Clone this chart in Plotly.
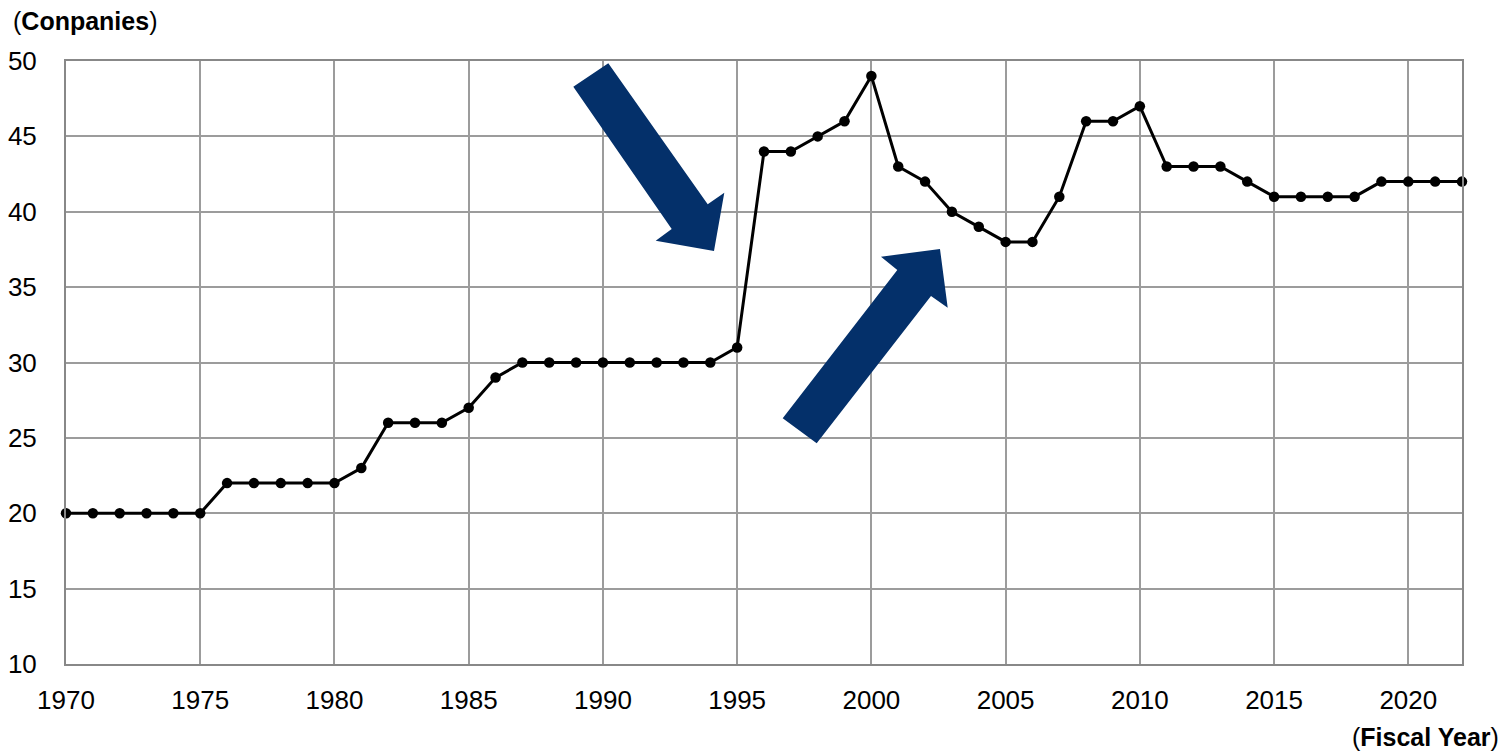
import plotly.graph_objects as go

# Number of companies by fiscal year
years = list(range(1970, 2023))
companies = [
    20, 20, 20, 20, 20, 20,          # 1970-1975
    22, 22, 22, 22, 22,              # 1976-1980
    23, 26, 26, 26, 27, 29,          # 1981-1986
    30, 30, 30, 30, 30, 30, 30, 30,  # 1987-1994
    31, 44, 44, 45, 46, 49,          # 1995-2000
    43, 42, 40, 39, 38, 38,          # 2001-2006
    41, 46, 46, 47,                  # 2007-2010
    43, 43, 43, 42,                  # 2011-2014
    41, 41, 41, 41,                  # 2015-2018
    42, 42, 42, 42,                  # 2019-2022
]
x_ticks = list(range(1970, 2021, 5))
y_ticks = list(range(10, 51, 5))

W, H = 1504, 753
M_L, M_R, M_T, M_B = 66, 42, 61, 89
PW, PH = W - M_L - M_R, H - M_T - M_B

FONT = "Liberation Sans, Arial, sans-serif"
NAVY = "#04306a"
GRID = "#9c9c9c"


def to_paper(pts):
    """Convert page pixel positions to paper coordinates."""
    return [((px - M_L) / PW, (H - M_B - py) / PH) for px, py in pts]


def polygon_path(pts):
    p = to_paper(pts)
    return "M " + " L ".join(f"{x:.5f},{y:.5f}" for x, y in p) + " Z"


# Block arrows pointing at the two turning points
arrow_down = [(573.3, 86.7), (608.3, 63.3), (707.7, 204.3), (724.3, 192.7),
              (714.0, 251.0), (655.7, 240.7), (671.7, 229.0)]
arrow_up = [(782.7, 418.3), (816.7, 443.3), (931.0, 296.0), (947.7, 307.7),
            (940.0, 249.0), (881.0, 256.7), (897.3, 270.0)]

fig = go.Figure()
fig.add_trace(go.Scatter(
    x=years, y=companies, mode="lines+markers",
    line=dict(color="black", width=3),
    marker=dict(color="black", size=10.5),
    cliponaxis=False, showlegend=False,
))

for pts in (arrow_down, arrow_up):
    fig.add_shape(type="path", path=polygon_path(pts), xref="paper", yref="paper",
                  fillcolor=NAVY, line=dict(width=0), layer="above")

fig.add_annotation(text="(<b>Conpanies</b>)", xref="paper", yref="paper",
                   x=(11 - M_L) / PW, y=(H - M_B - 21) / PH, xanchor="left", yanchor="middle",
                   showarrow=False, font=dict(family=FONT, size=25, color="black"))
fig.add_annotation(text="(<b>Fiscal Year</b>)", xref="paper", yref="paper",
                   x=(1501 - M_L) / PW, y=(H - M_B - 737) / PH, xanchor="right", yanchor="middle",
                   showarrow=False, font=dict(family=FONT, size=25, color="black"))

fig.update_layout(
    width=W, height=H,
    margin=dict(l=M_L, r=M_R, t=M_T, b=M_B, autoexpand=False),
    paper_bgcolor="white", plot_bgcolor="white",
    font=dict(family=FONT, size=26, color="black"),
    xaxis=dict(range=[1970, 2022], tickvals=x_ticks, showgrid=True, gridcolor=GRID, gridwidth=1.5,
               showline=True, linecolor="#888888", linewidth=2, mirror=True, automargin=False,
               ticks="", ticklabelstandoff=12, zeroline=False),
    yaxis=dict(range=[10, 50], tickvals=y_ticks, showgrid=True, gridcolor=GRID, gridwidth=2,
               showline=True, linecolor="#888888", linewidth=2, mirror=True, automargin=False,
               ticks="", ticklabelstandoff=22, zeroline=False),
)

fig.write_html("out.html")
